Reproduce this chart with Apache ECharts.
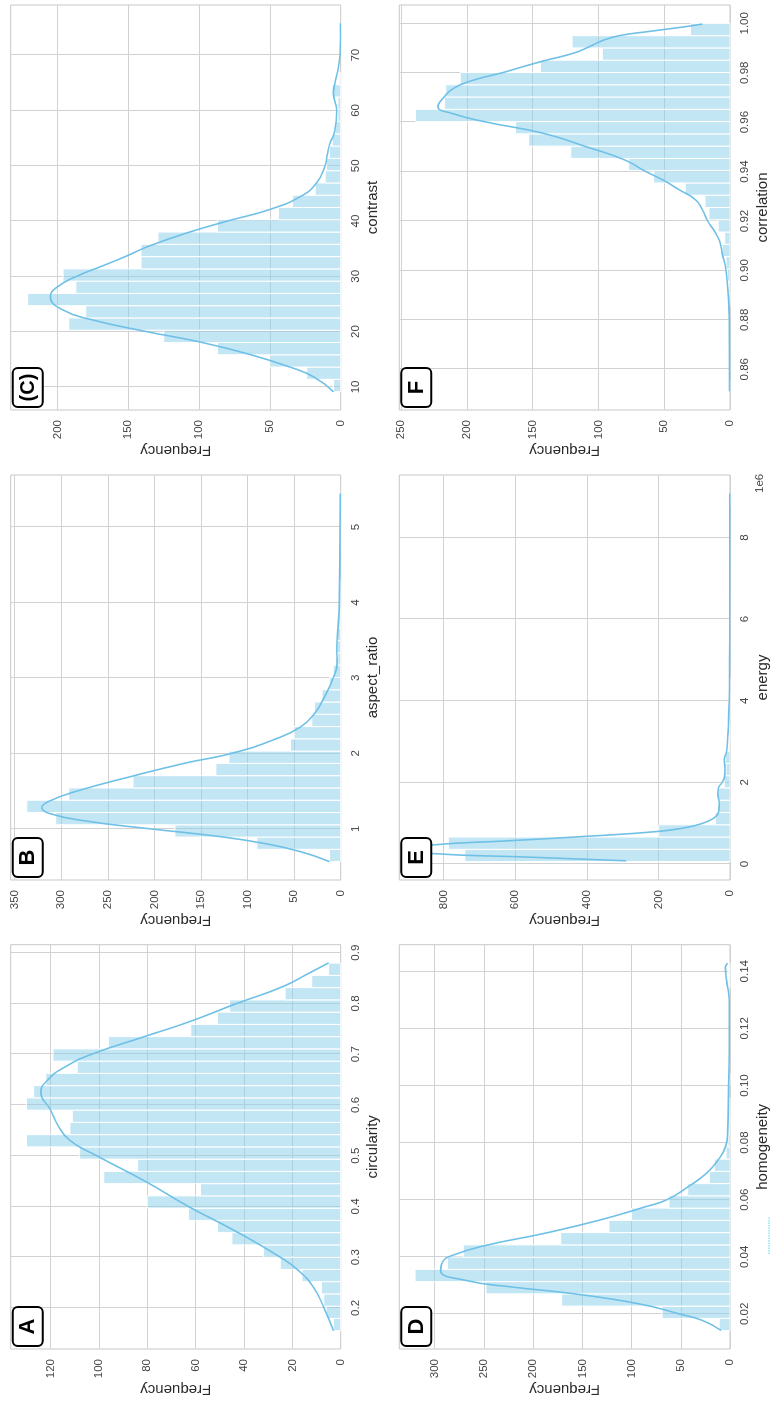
<!DOCTYPE html>
<html>
<head>
<meta charset="utf-8">
<script src="https://cdn.jsdelivr.net/npm/echarts@6/dist/echarts.min.js"></script>
<style>
html,body{margin:0;padding:0;background:#fff;overflow:hidden;width:773px;height:1404px;}
#stage{position:absolute;left:0;top:0;width:1404px;height:773px;transform-origin:0 0;transform:translate(0px,1404px) rotate(-90deg);background:#fff;}
</style>
</head>
<body>
<div id="stage"></div>
<script>
// ---------- A: circularity ----------
const circularityBinStart = 0.1553, circularityBinWidth = 0.02414;
const circularityCounts = [3, 6, 7, 8, 16, 25, 32, 45, 51, 63, 80, 58, 98, 84, 108, 130, 112, 111, 130, 127, 122, 109, 119, 96, 62, 51, 46, 23, 12, 5];
const circularityKde = [[0.155,3],[0.2,6.9],[0.241,11.3],[0.274,17.5],[0.3,25],[0.35,43],[0.4,63],[0.45,81],[0.5,101],[0.53,112],[0.56,117],[0.59,120],[0.625,124],[0.65,121],[0.675,114],[0.7,103],[0.735,81],[0.765,62],[0.8,43],[0.833,24],[0.86,13],[0.88,5]];
const circularityTicks = [0.2, 0.3, 0.4, 0.5, 0.6, 0.7, 0.8, 0.9];
const circularityFreqTicks = [0, 20, 40, 60, 80, 100, 120];

// ---------- B: aspect_ratio ----------
const aspectBinStart = 0.565, aspectBinWidth = 0.1627;
const aspectCounts = [12, 90, 178, 306, 337, 292, 223, 134, 120, 54, 50, 31, 28, 20, 12, 8, 3, 4, 4, 2, 1, 1, 1, 0, 0, 0, 0, 0, 0, 1];
const aspectKde = [[0.565,12],[0.7,44],[0.81,84],[0.9,132],[1.0,205],[1.1,272],[1.2,312],[1.28,321],[1.36,314],[1.5,283],[1.69,226],[1.87,167],[2.0,117],[2.18,72],[2.35,43],[2.53,28],[2.71,19],[3.0,8],[3.2,3.8],[3.37,4.3],[3.55,3.6],[4.0,1.4],[5.0,0.7],[5.445,0.3]];
const aspectTicks = [1, 2, 3, 4, 5];
const aspectFreqTicks = [0, 50, 100, 150, 200, 250, 300, 350];

// ---------- C: contrast ----------
const contrastBinStart = 9.15, contrastBinWidth = 2.22;
const contrastCounts = [5, 24, 50, 87, 125, 192, 180, 221, 187, 196, 141, 141, 129, 87, 44, 34, 18, 11, 10, 8, 6, 4, 2, 2, 6, 1, 0, 0, 0, 1];
const contrastKde = [[9.1,5],[11.8,19],[13.6,36],[16,66],[18.1,99],[20,137],[22.1,175],[23.9,196],[26.3,205],[28.1,200],[30,186.5],[31.9,168],[33.7,151],[35.4,136],[37.9,108],[40,80],[42.1,50],[44.5,28],[46.9,17],[50,11],[52,9.5],[54.1,7.5],[56,4.5],[60,2.8],[63.1,5.2],[65,4],[67.9,1.6],[70,0.5],[75.8,0.1]];
const contrastTicks = [10, 20, 30, 40, 50, 60, 70];
const contrastFreqTicks = [0, 50, 100, 150, 200];

// ---------- D: homogeneity ----------
const homogeneityBinStart = 0.01414, homogeneityBinWidth = 0.004291;
const homogeneityCounts = [11, 69, 171, 248, 320, 287, 271, 172, 123, 100, 62, 43, 21, 16, 4, 2, 1, 1, 1, 0, 1, 0, 0, 0, 0, 0, 0, 0, 1, 1];
const homogeneityKde = [[0.0142,9],[0.0177,28],[0.02,51.5],[0.0235,92],[0.0271,160],[0.0294,221],[0.0317,268],[0.0352,294],[0.0382,292],[0.0405,282],[0.044,248],[0.0481,190],[0.0528,133],[0.0575,86],[0.06,64],[0.0644,43],[0.0691,24.4],[0.0737,12.5],[0.0784,4.7],[0.0831,2.4],[0.1,1.4],[0.118,0.7],[0.13,0.8],[0.1367,3.4],[0.1414,4.7],[0.1428,2.4]];
const homogeneityTicks = [0.02, 0.04, 0.06, 0.08, 0.10, 0.12, 0.14];
const homogeneityFreqTicks = [0, 50, 100, 150, 200, 250, 300];

// ---------- E: energy ----------
const energyBinStart = 0.061e6, energyBinWidth = 0.3006e6;
const energyCounts = [741, 787, 199, 41, 30, 32, 16, 11, 13, 3, 2, 2, 1, 1, 1, 0, 0, 0, 0, 0, 0, 0, 0, 0, 0, 0, 0, 0, 0, 1];
const energyKde = [[0.08e6,290],[0.17e6,560],[0.26e6,835],[0.36e6,885],[0.465e6,835],[0.57e6,620],[0.67e6,420],[0.8e6,200],[0.9e6,120],[1.0e6,76],[1.1e6,50],[1.2e6,36],[1.3e6,31],[1.5e6,30],[1.7e6,34],[1.85e6,33],[2.0e6,22],[2.15e6,15],[2.35e6,14],[2.55e6,16],[2.75e6,10],[3.0e6,7],[3.3e6,5],[4.0e6,2],[5.0e6,1],[6.0e6,0.5],[9.08e6,0.3]];
const energyTicks = [0, 2e6, 4e6, 6e6, 8e6];
const energyFreqTicks = [0, 200, 400, 600, 800];

// ---------- F: correlation ----------
const correlationBinStart = 0.85095, correlationBinWidth = 0.004967;
const correlationCounts = [1, 0, 0, 0, 0, 0, 0, 1, 1, 2, 3, 6, 4, 9, 16, 19, 34, 58, 77, 121, 153, 163, 239, 217, 216, 205, 144, 97, 120, 30];
const correlationKde = [[0.851,0.3],[0.88,0.5],[0.90,3],[0.907,6],[0.912,8],[0.916,12],[0.92,17],[0.9245,21],[0.9285,26],[0.9326,38.5],[0.9366,51],[0.94,64],[0.9447,80],[0.95,109],[0.9555,142],[0.96,185],[0.9635,211],[0.9663,222],[0.9697,218],[0.9737,210],[0.977,195],[0.98,173],[0.9825,157],[0.985,140],[0.9879,119],[0.9905,107],[0.993,97],[0.995,84],[0.9968,60],[0.9987,33],[0.9997,21]];
const correlationTicks = [0.86, 0.88, 0.90, 0.92, 0.94, 0.96, 0.98, 1.00];
const correlationFreqTicks = [0, 50, 100, 150, 200, 250];

// ---------- panel assembly ----------
const panels = [
  {letter:'A', name:'circularity', start:circularityBinStart, width:circularityBinWidth, counts:circularityCounts, kde:circularityKde, ticks:circularityTicks, fticks:circularityFreqTicks, xmin:0.1191, xmax:0.9158, fmax:136.5, fmt:v=>v.toFixed(1)},
  {letter:'B', name:'aspect_ratio', start:aspectBinStart, width:aspectBinWidth, counts:aspectCounts, kde:aspectKde, ticks:aspectTicks, fticks:aspectFreqTicks, xmin:0.321, xmax:5.689, fmax:354.3, fmt:v=>v.toFixed(0)},
  {letter:'(C)', name:'contrast', start:contrastBinStart, width:contrastBinWidth, counts:contrastCounts, kde:contrastKde, ticks:contrastTicks, fticks:contrastFreqTicks, xmin:5.82, xmax:79.08, fmax:233, fmt:v=>v.toFixed(0)},
  {letter:'D', name:'homogeneity', start:homogeneityBinStart, width:homogeneityBinWidth, counts:homogeneityCounts, kde:homogeneityKde, ticks:homogeneityTicks, fticks:homogeneityFreqTicks, xmin:0.0077, xmax:0.1493, fmax:336, fmt:v=>v.toFixed(2)},
  {letter:'E', name:'energy', start:energyBinStart, width:energyBinWidth, counts:energyCounts, kde:energyKde, ticks:energyTicks, fticks:energyFreqTicks, xmin:-0.39e6, xmax:9.53e6, fmax:924, fmt:v=>(v/1e6).toFixed(0)},
  {letter:'F', name:'correlation', start:correlationBinStart, width:correlationBinWidth, counts:correlationCounts, kde:correlationKde, ticks:correlationTicks, fticks:correlationFreqTicks, xmin:0.8435, xmax:1.0074, fmax:251.3, fmt:v=>v.toFixed(2)}
];

// layout (in the un-rotated landscape frame)
const layout = [
  {left:55,  top:10.7,  width:404.3, height:330},
  {left:524, top:10.7,  width:405,   height:330},
  {left:994, top:10.7,  width:405,   height:330},
  {left:55,  top:399.3, width:404.3, height:330.7},
  {left:524, top:399.3, width:405,   height:330.7},
  {left:994, top:399.3, width:405,   height:330.7}
];

const FONT = "'Liberation Sans', Arial, Helvetica, sans-serif";
const grids = [], xAxes = [], yAxes = [], series = [], graphics = [];

panels.forEach((p, i) => {
  const L = layout[i];
  grids.push({left:L.left, top:L.top, width:L.width, height:L.height, show:true, borderColor:'#c8c8c8', borderWidth:1, backgroundColor:'#ffffff', containLabel:false});
  xAxes.push({
    type:'value', gridIndex:i, min:p.xmin, max:p.xmax, position:'bottom',
    name:p.name, nameLocation:'middle', nameGap:25,
    nameTextStyle:{fontSize:15, color:'#2a2a2a', fontFamily:FONT},
    axisLine:{show:false}, axisTick:{show:false, customValues:p.ticks},
    axisLabel:{customValues:p.ticks, margin:9, fontSize:11.5, color:'#444', fontFamily:FONT, formatter:p.fmt},
    splitLine:{show:true, lineStyle:{color:'#d2d2d2', width:1}}
  });
  yAxes.push({
    type:'value', gridIndex:i, min:0, max:p.fmax,
    name:'Frequency', nameLocation:'middle', nameRotate:90, nameGap:33,
    nameTextStyle:{fontSize:15, color:'#2a2a2a', fontFamily:FONT},
    axisLine:{show:false}, axisTick:{show:false, customValues:p.fticks},
    axisLabel:{customValues:p.fticks, margin:10, fontSize:11.5, color:'#444', fontFamily:FONT},
    splitLine:{show:true, lineStyle:{color:'#d2d2d2', width:1}}
  });
  series.push({
    type:'custom', xAxisIndex:i, yAxisIndex:i,
    data:p.counts.map((c, k) => [p.start + k * p.width, p.start + (k + 1) * p.width, c]),
    encode:{x:[0,1], y:2},
    renderItem:(params, api) => {
      const c = api.value(2);
      if (!c) return null;
      const a = api.coord([api.value(0), c]);
      const b = api.coord([api.value(1), 0]);
      return {type:'rect', shape:{x:a[0], y:a[1], width:b[0]-a[0], height:b[1]-a[1]},
              style:{fill:'rgba(135,206,235,0.5)', stroke:'#ffffff', lineWidth:1}};
    },
    z:2, silent:true
  });
  series.push({
    type:'line', xAxisIndex:i, yAxisIndex:i, data:p.kde, smooth:0.5,
    showSymbol:false, symbol:'none', lineStyle:{color:'#6fc0e6', width:1.6}, z:3, silent:true
  });
  graphics.push({
    type:'group', left:L.left + 2, top:L.top + 1, z:100,
    children:[
      {type:'rect', shape:{x:0, y:0, width:39, height:30, r:5}, style:{fill:'#ffffff', stroke:'#000000', lineWidth:2}, z:100},
      {type:'text', x:19.5, y:15.5, style:{text:p.letter, align:'center', verticalAlign:'middle', font:(p.letter.length > 1 ? 'bold 20px ' : 'bold 22px ') + FONT, fill:'#000'}, z:101}
    ]
  });
});

// offset text of the energy axis
graphics.push({type:'text', left:layout[4].left + layout[4].width - 18, top:layout[4].top + layout[4].height + 24, z:100,
  style:{text:'1e6', font:'11.5px ' + FONT, fill:'#444'}});
// small cyan dotted mark below the homogeneity axis
graphics.push({type:'line', z:100, shape:{x1:150, y1:769, x2:187, y2:769}, style:{stroke:'#4fd8ec', lineWidth:1, lineDash:[1.5,1]}});

const chart = echarts.init(document.getElementById('stage'), null, {width:1404, height:773, renderer:'canvas'});
chart.setOption({
  animation:false, backgroundColor:'#ffffff',
  grid:grids, xAxis:xAxes, yAxis:yAxes, series:series, graphic:graphics
});
</script>
</body>
</html>
